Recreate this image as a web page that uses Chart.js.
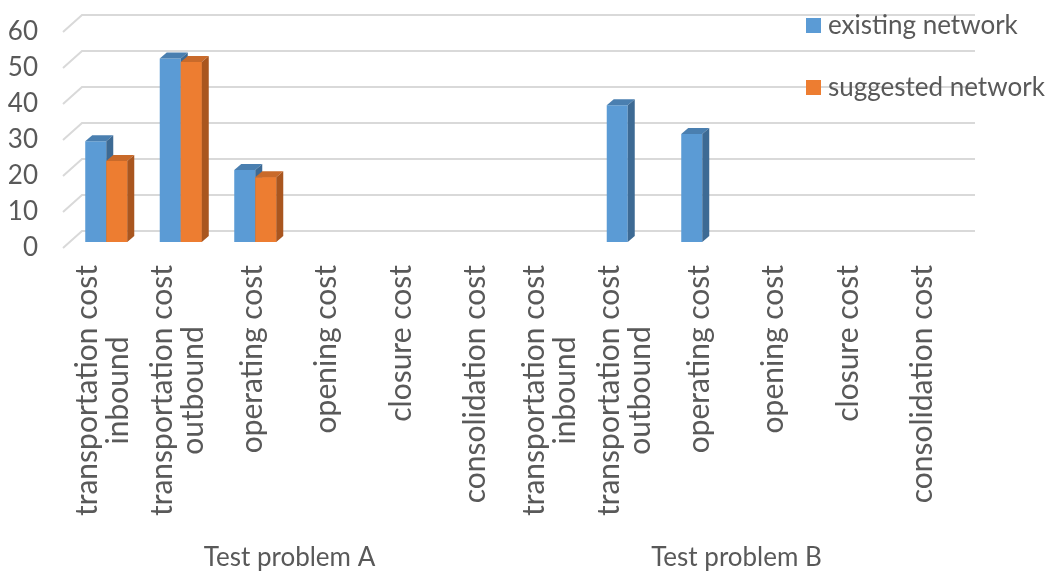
<!DOCTYPE html>
<html>
<head>
<meta charset="utf-8">
<script src="https://cdn.jsdelivr.net/npm/chart.js@4.4.0/dist/chart.umd.min.js"></script>
<style>
  body { margin: 0; background: #fff; }
  #wrap { width: 1053px; height: 575px; }
</style>
</head>
<body>
<div id="wrap"><canvas id="chart"></canvas></div>
<script>
// data
const costLabels = [
    ["transportation cost", "inbound"], ["transportation cost", "outbound"], "operating cost",
    "opening cost", "closure cost", "consolidation cost",
    ["transportation cost", "inbound"], ["transportation cost", "outbound"], "operating cost",
    "opening cost", "closure cost", "consolidation cost"
];
const problemNames = ["Test problem A", "Test problem B"];
const problemSize = 6; // categories per test problem
const existingNetwork = [28, 51, 20, 0, 0, 0, 0, 38, 30, 0, 0, 0];
const suggestedNetwork = [22.5, 50, 18, 0, 0, 0, 0, 0, 0, 0, 0, 0];
const seriesNames = ["existing network", "suggested network"];

const textColor = '#595959';
const font = 'Lato, "Open Sans", sans-serif';

// face colours for the fake 3d bars: front, top, side
const faces = [
    ['#5b9bd5', '#4a7fb0', '#3d6a94'],
    ['#ed7d31', '#c96a2a', '#a9561f']
];
const depth = { x: 7, y: 6 };     // bar depth
const wall = { x: 19, y: 17 };    // back wall offset
const shift = { x: 3, y: -6 };    // bars sit in the middle of the floor

function drawDepth(ctx, bar, col) {
    const l = bar.x - bar.width / 2, r = bar.x + bar.width / 2;
    // top
    ctx.fillStyle = col[1];
    ctx.beginPath();
    ctx.moveTo(l, bar.y);
    ctx.lineTo(l + depth.x, bar.y - depth.y);
    ctx.lineTo(r + depth.x, bar.y - depth.y);
    ctx.lineTo(r, bar.y);
    ctx.closePath();
    ctx.fill();
    // side
    ctx.fillStyle = col[2];
    ctx.beginPath();
    ctx.moveTo(r, bar.y);
    ctx.lineTo(r + depth.x, bar.y - depth.y);
    ctx.lineTo(r + depth.x, bar.base - depth.y);
    ctx.lineTo(r, bar.base);
    ctx.closePath();
    ctx.fill();
}

const box3d = {
    id: 'box3d',
    beforeDatasetsDraw(chart) {
        const ctx = chart.ctx, y = chart.scales.y, area = chart.chartArea;
        // gridlines on the back wall
        ctx.save();
        ctx.strokeStyle = '#d9d9d9';
        ctx.lineWidth = 2;
        y.ticks.forEach(t => {
            const py = y.getPixelForValue(t.value);
            ctx.beginPath();
            ctx.moveTo(area.left - 3, py);
            ctx.lineTo(area.left - 3 + wall.x, py - wall.y);
            ctx.lineTo(975, py - wall.y);
            ctx.stroke();
        });
        ctx.restore();
        ctx.save();
        ctx.translate(shift.x, shift.y);
    },
    afterDatasetsDraw(chart) {
        const ctx = chart.ctx;
        const a = chart.getDatasetMeta(0).data, b = chart.getDatasetMeta(1).data;
        for (let i = 0; i < a.length; i++) {
            if (existingNetwork[i] > 0) drawDepth(ctx, a[i], faces[0]);
            if (suggestedNetwork[i] > 0) {
                // repaint the orange front so it hides the blue side
                const bar = b[i];
                ctx.fillStyle = faces[1][0];
                ctx.fillRect(bar.x - bar.width / 2, bar.y, bar.width, bar.base - bar.y);
                drawDepth(ctx, bar, faces[1]);
            }
        }
        ctx.restore();
    },
    afterDraw(chart) {
        const ctx = chart.ctx, x = chart.scales.x;
        ctx.save();
        ctx.fillStyle = textColor;

        // category labels, rotated, lines centred on each other
        ctx.font = '30px ' + font;
        ctx.textAlign = 'center';
        ctx.textBaseline = 'middle';
        const lineH = 31;
        costLabels.forEach((lab, i) => {
            const lines = Array.isArray(lab) ? lab : [lab];
            const w = ctx.measureText(lines[0]).width;
            const cx = x.getPixelForTick(i), cy = 265 + w / 2;
            ctx.save();
            ctx.translate(cx, cy);
            ctx.rotate(-Math.PI / 2);
            lines.forEach((ln, j) => ctx.fillText(ln, 0, (j - (lines.length - 1) / 2) * lineH));
            ctx.restore();
        });

        // test problem group labels
        ctx.font = '26px ' + font;
        const half = (x.getPixelForTick(1) - x.getPixelForTick(0)) / 2;
        problemNames.forEach((name, g) => {
            const first = x.getPixelForTick(g * problemSize) - half;
            const last = x.getPixelForTick(g * problemSize + problemSize - 1) + half;
            ctx.fillText(name, (first + last) / 2, 558);
        });

        // legend
        ctx.textAlign = 'left';
        seriesNames.forEach((name, k) => {
            const top = 18 + k * 62;
            ctx.fillStyle = faces[k][0];
            ctx.fillRect(806, top, 15, 15);
            ctx.fillStyle = textColor;
            ctx.fillText(name, 828, top + 8);
        });
        ctx.restore();
    }
};

new Chart(document.getElementById('chart'), {
    type: 'bar',
    data: {
        labels: costLabels,
        datasets: [
            { label: seriesNames[0], data: existingNetwork, backgroundColor: faces[0][0], borderWidth: 0 },
            { label: seriesNames[1], data: suggestedNetwork, backgroundColor: faces[1][0], borderWidth: 0 }
        ]
    },
    options: {
        responsive: true,
        maintainAspectRatio: false,
        animation: false,
        layout: { padding: { left: 0, top: 32, right: 93, bottom: 0 } },
        datasets: { bar: { categoryPercentage: 0.564, barPercentage: 1.0 } },
        plugins: { legend: { display: false }, tooltip: { enabled: false } },
        scales: {
            x: {
                grid: { display: false, drawTicks: false },
                border: { display: false },
                ticks: { display: false },
                afterFit: s => { s.height = 327; s.paddingLeft = 0; s.paddingRight = 0; }
            },
            y: {
                min: 0, max: 60,
                grid: { display: false, drawTicks: false },
                border: { display: false },
                ticks: { stepSize: 10, autoSkip: false, padding: 28, color: textColor, font: { family: font, size: 26 } },
                afterFit: s => { s.width = 66; s.paddingTop = 0; s.paddingBottom = 0; }
            }
        }
    },
    plugins: [box3d]
});
</script>
</body>
</html>
